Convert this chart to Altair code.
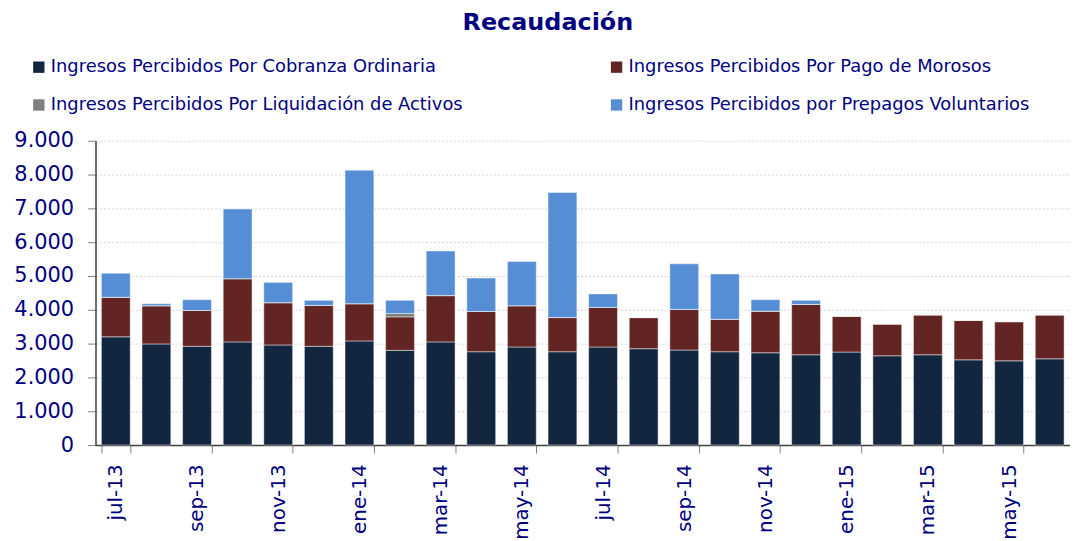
import altair as alt
import pandas as pd

meses = ["jul-13", "ago-13", "sep-13", "oct-13", "nov-13", "dic-13",
         "ene-14", "feb-14", "mar-14", "abr-14", "may-14", "jun-14",
         "jul-14", "ago-14", "sep-14", "oct-14", "nov-14", "dic-14",
         "ene-15", "feb-15", "mar-15", "abr-15", "may-15", "jun-15"]

cobranza = [3200, 2990, 2920, 3050, 2960, 2920, 3080, 2800, 3050, 2760, 2900, 2760,
            2900, 2850, 2810, 2760, 2730, 2670, 2750, 2640, 2670, 2520, 2490, 2550]
morosos = [1170, 1130, 1060, 1870, 1250, 1210, 1100, 990, 1370, 1190, 1220, 1010,
           1170, 920, 1200, 960, 1230, 1490, 1060, 940, 1180, 1170, 1160, 1300]
liquidacion = [0, 0, 0, 0, 0, 0, 0, 100, 0, 0, 0, 0,
               0, 0, 0, 0, 0, 0, 0, 0, 0, 0, 0, 0]
prepagos = [710, 60, 320, 2060, 600, 150, 3950, 390, 1320, 990, 1310, 3700,
            400, 0, 1350, 1340, 340, 120, 0, 0, 0, 0, 0, 0]

series = ["Ingresos Percibidos Por Cobranza Ordinaria",
          "Ingresos Percibidos Por Pago de Morosos",
          "Ingresos Percibidos Por Liquidación de Activos",
          "Ingresos Percibidos por Prepagos Voluntarios"]
colores = ["#13263F", "#632523", "#7F7F7F", "#558ED5"]

y_ticks = [0, 1000, 2000, 3000, 4000, 5000, 6000, 7000, 8000, 9000]
x_labels = meses[::2]

rows = []
for i, m in enumerate(meses):
    for j, vals in enumerate([cobranza, morosos, liquidacion, prepagos]):
        rows.append({"mes": m, "serie": series[j], "orden": j, "valor": vals[i]})
df = pd.DataFrame(rows)

# legend laid out column by column: first column holds entries 1 and 3
legend_order = [series[0], series[2], series[1], series[3]]
legend_colors = [colores[0], colores[2], colores[1], colores[3]]

navy = "#000080"
font = "DejaVu Sans"

chart = alt.Chart(df).mark_bar(stroke="white", strokeWidth=1, strokeOpacity=0.45).encode(
    x=alt.X("mes:N", sort=meses,
            scale=alt.Scale(paddingInner=0.29, paddingOuter=0.145),
            axis=alt.Axis(title=None, values=x_labels, labelAngle=-90, tickBand="extent",
                          labelFont=font, labelFontSize=20, labelColor=navy,
                          labelPadding=11, tickSize=8, tickColor="#808080",
                          domainColor="#404040", domainWidth=1.5, grid=False)),
    y=alt.Y("valor:Q", stack="zero",
            scale=alt.Scale(domain=[0, 9000], nice=False),
            axis=alt.Axis(title=None, values=y_ticks,
                          labelExpr="replace(format(datum.value, ','), ',', '.')",
                          labelFont=font, labelFontSize=21, labelColor=navy,
                          labelPadding=14, tickSize=8, tickColor="#808080",
                          domainColor="#404040", domainWidth=1.5,
                          grid=True, gridColor="#d4d4d4", gridDash=[2, 2])),
    color=alt.Color("serie:N", sort=legend_order,
                    scale=alt.Scale(domain=legend_order, range=legend_colors),
                    legend=alt.Legend(title=None, orient="none", legendX=-66, legendY=-83,
                                      values=legend_order,
                                      columns=2, columnPadding=145, rowPadding=20,
                                      labelFont=font, labelFontSize=18, labelColor=navy,
                                      labelOffset=3,
                                      symbolType="square", symbolSize=130, symbolStrokeWidth=0,
                                      labelLimit=600)),
    order=alt.Order("orden:Q"),
).properties(
    width=980, height=306,
    title=alt.TitleParams("Recaudación", font=font, fontSize=24, fontWeight="bold",
                          color=navy, anchor="middle", frame="bounds", dx=6, offset=23),
    padding={"left": 5, "top": 2, "right": 0, "bottom": 0},
).configure_view(stroke=None)

chart.save("out.html", embed_options={"renderer": "svg", "actions": False})
